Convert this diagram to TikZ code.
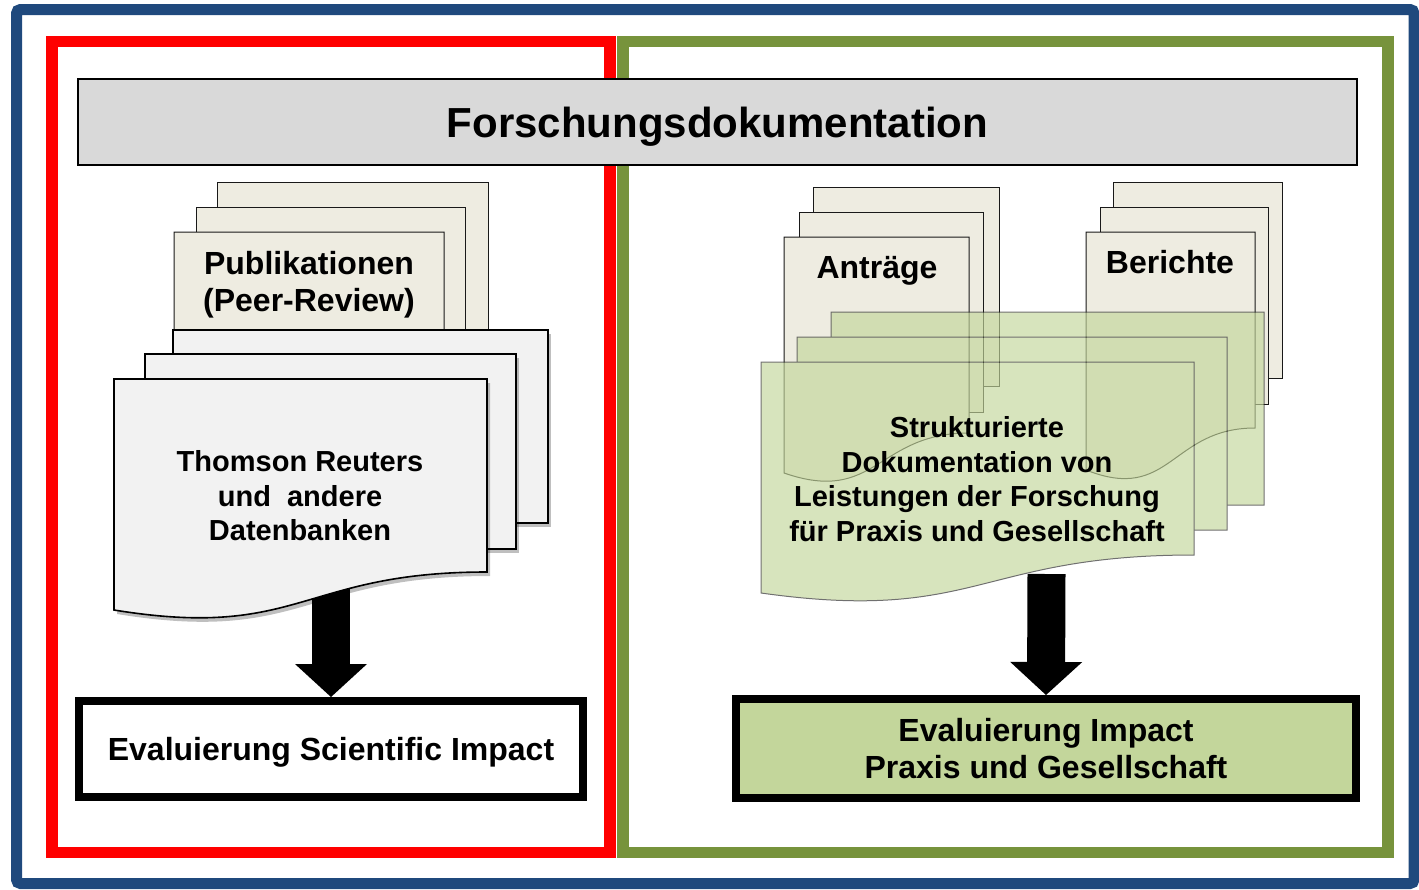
\documentclass[tikz,border=0pt]{standalone}
\usepackage{fontspec}
\setmainfont{Liberation Sans}
\usetikzlibrary{arrows.meta, positioning, shadows}
\definecolor{frameblue}{HTML}{1F497D}
\definecolor{framered}{HTML}{FF0000}
\definecolor{framegreen}{HTML}{77933C}
\definecolor{titlegray}{HTML}{D9D9D9}
\definecolor{sheetbeige}{HTML}{EEECE1}
\definecolor{sheetgray}{HTML}{F2F2F2}
\definecolor{sheetgreen}{HTML}{C3D69B}

% sheet with wavy bottom: style, left, top, right, y right end, y left end
\newcommand{\wavesheet}[6]{%
  \draw[#1] (#2,#3) -- (#4,#3) -- (#4,#5)
    .. controls ({(#2+#4)/2},#5) and ({(#2+#4)/2},{#6+0.8*(#6-#5)}) .. (#2,#6) -- cycle;}

\begin{document}
\begin{tikzpicture}[
  x=1pt, y=-1pt,
  frame/.style={line width=11.5pt},
  beige sheet/.style={fill=sheetbeige, draw=black!90, line width=1pt},
  gray sheet/.style={fill=sheetgray, draw=black, line width=1.6pt,
    drop shadow={shadow xshift=3pt, shadow yshift=-4pt, opacity=0.25, fill=black}},
  green sheet/.style={fill=sheetgreen, draw=black!85, line width=1pt},
  sheet text/.style={font=\fontsize{29}{34.5}\selectfont\bfseries, align=center},
  label text/.style={font=\fontsize{32}{37}\selectfont\bfseries, align=center},
  evalbox/.style={draw=black, line width=8pt, inner sep=0pt, label text},
  bigarrow/.style={line width=38pt, -{Triangle[length=33pt, width=72pt, line width=0pt]}}
]
\useasboundingbox (0,0) rectangle (1419,889);

% frames
\draw[frame, frameblue, line width=11pt, rounded corners=4pt] (16.5,9.5) rectangle (1414,883.5);
\draw[frame, framered] (52,41.5) rectangle (610,852.5);
\draw[frame, framegreen] (623,41.5) rectangle (1388,852.5);

\node[draw=black, line width=1.5pt, fill=titlegray, minimum width=1279pt, minimum height=86pt,
  inner sep=0pt, text depth=0pt, font=\fontsize{42}{50}\selectfont\bfseries]
  (title) at (717.5,122) {Forschungsdokumentation};

% evaluation boxes
\node[evalbox, fill=white, minimum width=504pt, minimum height=96pt, text depth=0pt]
  (evalsci) at (331,749) {Evaluierung Scientific Impact};
\node[evalbox, fill=sheetgreen, minimum width=620pt, minimum height=99pt]
  (evalprax) at (1046,748.5) {Evaluierung Impact\\Praxis und Gesellschaft};

% publications
\draw[beige sheet] (217,182) rectangle (488,345);
\draw[beige sheet] (196,207) rectangle (465,365);
\wavesheet{beige sheet}{174}{232}{444}{385}{405}

\coordinate (thomsonfoot) at (331,585);
\coordinate (strukturfoot) at (1046.5,574);
\draw[bigarrow] (thomsonfoot) -- (evalsci.north);
\draw[bigarrow] (strukturfoot) -- (evalprax.north);

% databases
\draw[gray sheet] (173,330) rectangle (548,523);
\draw[gray sheet] (145,354) rectangle (516,549);
\wavesheet{gray sheet}{114}{379}{487}{572}{610}

% proposals and reports
\draw[beige sheet] (813,187) rectangle (999,386);
\draw[beige sheet] (799,212) rectangle (983,412);
\wavesheet{beige sheet}{784}{237}{969}{433}{473}
\draw[beige sheet] (1113,182) rectangle (1282,378);
\draw[beige sheet] (1100,207) rectangle (1268,404);
\wavesheet{beige sheet}{1086}{232}{1255}{428}{470}

% structured documentation
\begin{scope}[transparency group, opacity=0.66]
  \draw[green sheet] (831,312) rectangle (1264,505);
  \draw[green sheet] (797,337) rectangle (1227,530);
  \wavesheet{green sheet}{761}{362}{1194}{555}{593}
\end{scope}

\node[label text] (publ) at (309,285) {Publikationen\\(Peer-Review)};
\node[sheet text] (thomson) at (300,496) {Thomson Reuters\\und\ \ andere\\Datenbanken};
\node[label text, anchor=base] (antraege) at (877,278) {Anträge};
\node[label text, anchor=base] (berichte) at (1170,273) {Berichte};
\node[sheet text] (struktur) at (977,479)
  {Strukturierte\\Dokumentation von\\Leistungen der Forschung\\für Praxis und Gesellschaft};
\end{tikzpicture}
\end{document}
